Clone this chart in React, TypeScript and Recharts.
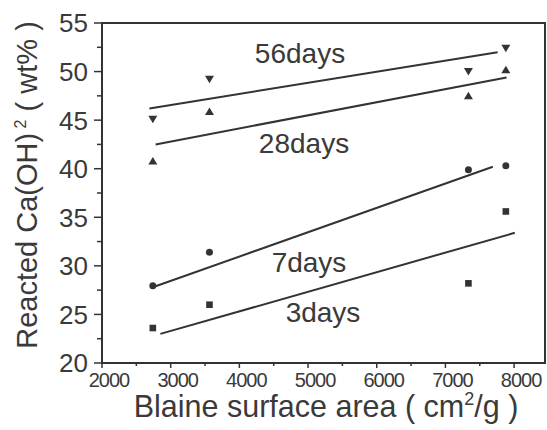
import { ScatterChart, Scatter, XAxis, YAxis, ReferenceArea, ReferenceDot } from 'recharts';

// Blaine surface area of the four cements (cm2/g)
const blaine = [2740, 3565, 7335, 7880];

// reacted Ca(OH)2 (wt%) per age
const days56 = [45.1, 49.2, 50.0, 52.4];
const days28 = [40.8, 45.9, 47.5, 50.2];
const days7 = [27.95, 31.4, 39.9, 40.3];
const days3 = [23.6, 26.0, 28.2, 35.6];

// hand-drawn trend lines, end points
const fit56X = [2690, 7760];
const fit56Y = [46.2, 52.0];
const fit28X = [2780, 7890];
const fit28Y = [42.5, 49.4];
const fit7X = [2780, 7690];
const fit7Y = [27.9, 40.2];
const fit3X = [2850, 8010];
const fit3Y = [23.0, 33.4];

const xTicks = [2000, 2500, 3000, 3500, 4000, 4500, 5000, 5500, 6000, 6500, 7000, 7500, 8000];
const yTicks = [20, 22.5, 25, 27.5, 30, 32.5, 35, 37.5, 40, 42.5, 45, 47.5, 50, 52.5, 55];

const ageLabels = ['56days', '28days', '7days', '3days'];
const labelX = [4883, 4941, 5014, 5218];
const labelY = [51.9, 42.65, 30.43, 25.28];

const FONT = "'Liberation Sans', Arial, Helvetica, sans-serif";
const INK = '#333';
const TEXT = '#3a3a3a';

const toPoints = (xs: number[], ys: number[]) => xs.map((x, i) => ({ x, y: ys[i] }));

const TriUp = ({ cx, cy }: any) => (
    <path d={`M${cx - 4.5},${cy + 3.5}L${cx + 4.5},${cy + 3.5}L${cx},${cy - 4}Z`} fill={INK} />
);
const TriDown = ({ cx, cy }: any) => (
    <path d={`M${cx - 4.5},${cy - 3.5}L${cx + 4.5},${cy - 3.5}L${cx},${cy + 4}Z`} fill={INK} />
);
const Circ = ({ cx, cy }: any) => <circle cx={cx} cy={cy} r={3.5} fill={INK} />;
const Sq = ({ cx, cy }: any) => <rect x={cx - 3.3} y={cy - 3.3} width={6.6} height={6.6} fill={INK} />;
const NoDot = () => <g />;

const XTick = ({ x, y, payload }: any) => {
    const major = payload.value % 1000 === 0;
    return (
        <g>
            <line x1={x} x2={x} y1={y} y2={y + (major ? 5 : 3)} stroke={INK} strokeWidth={1.5} />
            {major && (
                <text x={x + 7} y={y + 24} textAnchor="middle" fontSize={20} letterSpacing={-1}
                    fontFamily={FONT} fill={TEXT}>
                    {payload.value}
                </text>
            )}
        </g>
    );
};

const YTick = ({ x, y, payload }: any) => {
    const major = payload.value % 5 === 0;
    return (
        <g>
            <line x1={x} x2={x - (major ? 8 : 5)} y1={y} y2={y} stroke={INK} strokeWidth={1.5} />
            {major && (
                <text x={x - 14} y={y} dy="0.36em" textAnchor="end" fontSize={26}
                    fontFamily={FONT} fill={TEXT}>
                    {payload.value}
                </text>
            )}
        </g>
    );
};

const YTitle = () => (
    <text x={37} y={185} transform="rotate(-90, 37, 185)" textAnchor="middle" fontSize={29}
        fontFamily={FONT} fill={TEXT}>
        Reacted Ca(OH)<tspan fontSize={16} dy={-11}> 2</tspan>
        <tspan dy={11}> ( wt% )</tspan>
    </text>
);

const XTitle = () => (
    <text x={326} y={417} textAnchor="middle" fontSize={30.5} fontFamily={FONT} fill={TEXT}>
        Blaine surface area ( cm<tspan fontSize={18} dy={-12}>2</tspan>
        <tspan dy={12}>/g )</tspan>
    </text>
);

export default function App() {
    return (
        <div style={{ position: 'absolute', left: 0, top: 0, background: '#fff' }}>
            <ScatterChart width={547} height={430} margin={{ top: 23, right: 2, bottom: 0, left: 0 }}>
                <XAxis type="number" dataKey="x" domain={[2000, 8450]} ticks={xTicks} interval={0}
                    tick={<XTick />} tickSize={0} tickMargin={0} tickLine={false} height={67}
                    axisLine={{ stroke: INK, strokeWidth: 2 }} label={<XTitle />} />
                <YAxis type="number" dataKey="y" domain={[20, 55]} ticks={yTicks} interval={0}
                    tick={<YTick />} tickSize={0} tickMargin={0} tickLine={false} width={102}
                    axisLine={{ stroke: INK, strokeWidth: 2 }} label={<YTitle />} />
                <ReferenceArea x1={2000} x2={8450} y1={20} y2={55} fill="none" fillOpacity={0}
                    stroke={INK} strokeWidth={2} />

                <Scatter data={toPoints(fit56X, fit56Y)} line={{ stroke: INK, strokeWidth: 2 }} shape={NoDot} isAnimationActive={false} />
                <Scatter data={toPoints(fit28X, fit28Y)} line={{ stroke: INK, strokeWidth: 2 }} shape={NoDot} isAnimationActive={false} />
                <Scatter data={toPoints(fit7X, fit7Y)} line={{ stroke: INK, strokeWidth: 2 }} shape={NoDot} isAnimationActive={false} />
                <Scatter data={toPoints(fit3X, fit3Y)} line={{ stroke: INK, strokeWidth: 2 }} shape={NoDot} isAnimationActive={false} />

                <Scatter data={toPoints(blaine, days56)} shape={TriDown} isAnimationActive={false} />
                <Scatter data={toPoints(blaine, days28)} shape={TriUp} isAnimationActive={false} />
                <Scatter data={toPoints(blaine, days7)} shape={Circ} isAnimationActive={false} />
                <Scatter data={toPoints(blaine, days3)} shape={Sq} isAnimationActive={false} />

                {ageLabels.map((t, i) => (
                    <ReferenceDot key={t} x={labelX[i]} y={labelY[i]} r={0} fill="none" stroke="none"
                        label={{ value: t, position: 'center', fontSize: 28, fontFamily: FONT, fill: TEXT }} />
                ))}
            </ScatterChart>
        </div>
    );
}
